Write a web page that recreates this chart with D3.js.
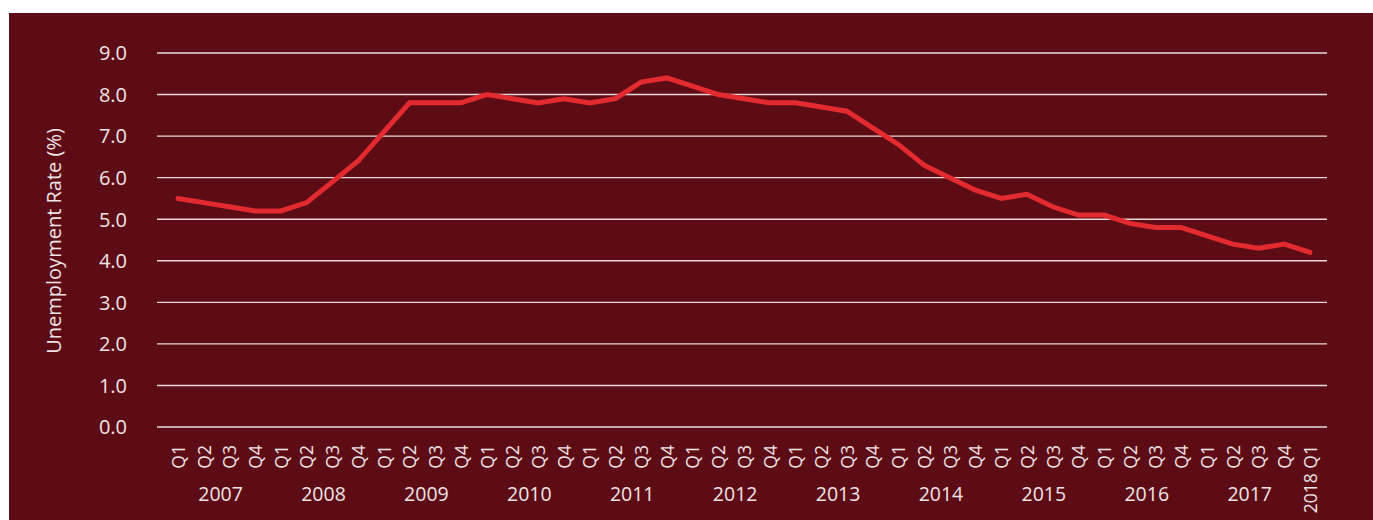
<!DOCTYPE html>
<html>
<head>
<meta charset="utf-8">
<script src="https://cdn.jsdelivr.net/npm/d3@7"></script>
<style>
  html, body { margin: 0; padding: 0; background: #ffffff; }
  svg { display: block; }
  text { font-family: "Open Sans", "Noto Sans", sans-serif; font-weight: 400; fill: #efe5e6; }
</style>
</head>
<body>
<svg id="chart" width="1373" height="520"></svg>
<script>
const years = ["2007","2008","2009","2010","2011","2012","2013","2014","2015","2016","2017"];
const quarters = ["Q1","Q2","Q3","Q4"];
const lastLabel = "2018 Q1";
const rates = [
  5.5, 5.4, 5.3, 5.2,
  5.2, 5.4, 5.9, 6.4,
  7.1, 7.8, 7.8, 7.8,
  8.0, 7.9, 7.8, 7.9,
  7.8, 7.9, 8.3, 8.4,
  8.2, 8.0, 7.9, 7.8,
  7.8, 7.7, 7.6, 7.2,
  6.8, 6.3, 6.0, 5.7,
  5.5, 5.6, 5.3, 5.1,
  5.1, 4.9, 4.8, 4.8,
  4.6, 4.4, 4.3, 4.4,
  4.2
];
const yTicks = [0,1,2,3,4,5,6,7,8,9];
const yTitle = "Unemployment Rate (%)";

const cats = [];
years.forEach(y => quarters.forEach(q => cats.push({key: y + "-" + q, year: y, q: q})));
cats.push({key: "2018-Q1", year: null, q: lastLabel});
const data = cats.map((c, i) => ({...c, v: rates[i]}));

const svg = d3.select("#chart");
svg.append("rect").attr("x", 9).attr("y", 13).attr("width", 1373 - 9).attr("height", 520 - 13).attr("fill", "#5d0b14");

const x0 = 157, x1 = 1327;
const x = d3.scalePoint().domain(cats.map(c => c.key)).range([x0 + 21, x1 - 17]);
const y = d3.scaleLinear().domain([0, 9]).range([427, 53]);

// gridlines
svg.append("g").selectAll("line").data(yTicks).join("line")
  .attr("x1", x0).attr("x2", x1)
  .attr("y1", d => y(d)).attr("y2", d => y(d))
  .attr("stroke", "#e9d8da").attr("stroke-width", 1.4);

// y axis
const yAxis = d3.axisLeft(y).tickValues(yTicks).tickFormat(d3.format(".1f")).tickSize(0).tickPadding(0);
const gy = svg.append("g").attr("transform", "translate(127,0)").call(yAxis);
gy.select(".domain").remove();
gy.selectAll("text").attr("font-size", 20).attr("fill", "#efe5e6").attr("dy", "0.34em")
  .style("font-family", '"Open Sans", sans-serif').style("font-weight", 400);

// y title
svg.append("text").attr("transform", "translate(61,241) rotate(-90)")
  .attr("text-anchor", "middle").attr("font-size", 20).text(yTitle);

// x quarter labels
const xAxis = d3.axisBottom(x).tickFormat(k => cats.find(c => c.key === k).q).tickSize(0).tickPadding(0);
const gx = svg.append("g").attr("transform", "translate(0,445)").call(xAxis);
gx.select(".domain").remove();
gx.selectAll("text")
  .attr("font-size", 17.5).attr("fill", "#efe5e6")
  .attr("transform", "rotate(-90)")
  .attr("text-anchor", "end").attr("x", 0).attr("y", 0).attr("dy", "0.36em")
  .style("font-family", '"Open Sans", sans-serif').style("font-weight", 400);

// year labels
svg.append("g").selectAll("text").data(years).join("text")
  .attr("x", yr => (x(yr + "-Q1") + x(yr + "-Q4")) / 2 + 4)
  .attr("y", 501)
  .attr("text-anchor", "middle").attr("font-size", 19.5).text(yr => yr);

// line
const line = d3.line().x(d => x(d.key)).y(d => y(d.v));
svg.append("path").datum(data).attr("d", line)
  .attr("fill", "none").attr("stroke", "#e32b2f").attr("stroke-width", 5)
  .attr("stroke-linejoin", "miter").attr("stroke-linecap", "round");
</script>
</body>
</html>
